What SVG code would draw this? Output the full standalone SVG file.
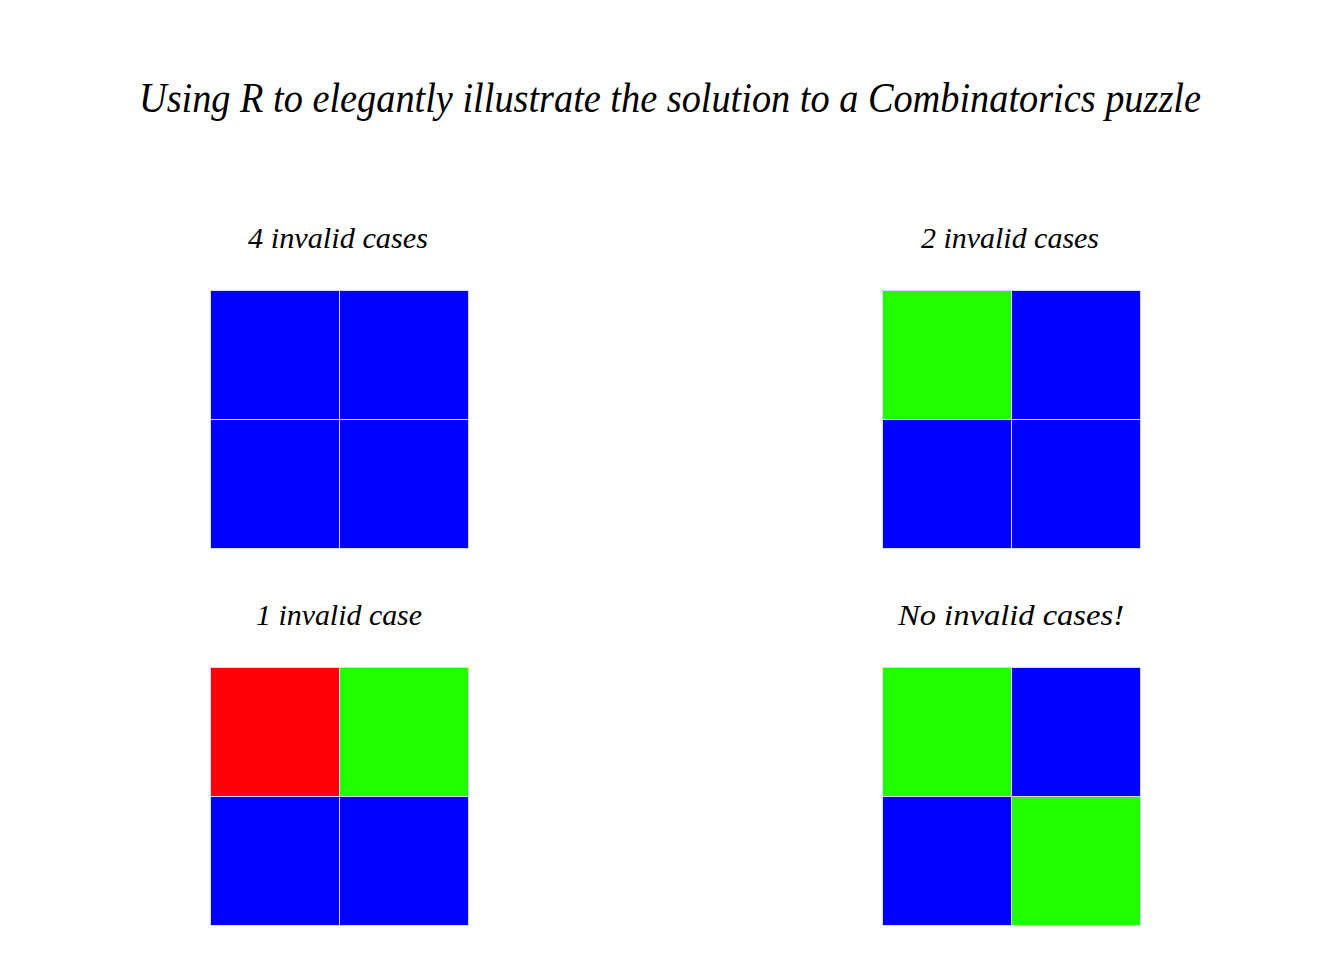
<svg xmlns="http://www.w3.org/2000/svg" width="1344" height="960" viewBox="0 0 1344 960">
<style>
.t{font-family:"Liberation Serif",serif;font-style:italic;fill:#000;text-anchor:middle}
.c{stroke:#d8d8ff;stroke-width:1}
.b{fill:#0000ff}.g{fill:#22ff00}.r{fill:#ff0008}
</style>
<rect width="1344" height="960" fill="#fff"/>
<text class="t" x="670" y="112" font-size="42" textLength="1062" lengthAdjust="spacingAndGlyphs">Using R to elegantly illustrate the solution to a Combinatorics puzzle</text>
<g id="p1">
<text class="t" x="338" y="248" font-size="30" textLength="180" lengthAdjust="spacingAndGlyphs">4 invalid cases</text>
<rect class="b c" x="210.5" y="290.5" width="129" height="129"/>
<rect class="b c" x="339.5" y="290.5" width="129" height="129"/>
<rect class="b c" x="210.5" y="419.5" width="129" height="129"/>
<rect class="b c" x="339.5" y="419.5" width="129" height="129"/>
</g>
<g id="p2">
<text class="t" x="1010" y="248" font-size="30" textLength="178" lengthAdjust="spacingAndGlyphs">2 invalid cases</text>
<rect class="g c" x="882.5" y="290.5" width="129" height="129"/>
<rect class="b c" x="1011.5" y="290.5" width="129" height="129"/>
<rect class="b c" x="882.5" y="419.5" width="129" height="129"/>
<rect class="b c" x="1011.5" y="419.5" width="129" height="129"/>
</g>
<g id="p3">
<text class="t" x="339" y="625" font-size="30" textLength="166" lengthAdjust="spacingAndGlyphs">1 invalid case</text>
<rect class="r c" x="210.5" y="667.5" width="129" height="129"/>
<rect class="g c" x="339.5" y="667.5" width="129" height="129"/>
<rect class="b c" x="210.5" y="796.5" width="129" height="129"/>
<rect class="b c" x="339.5" y="796.5" width="129" height="129"/>
</g>
<g id="p4">
<text class="t" x="1011" y="625" font-size="30" textLength="226" lengthAdjust="spacingAndGlyphs">No invalid cases!</text>
<rect class="g c" x="882.5" y="667.5" width="129" height="129"/>
<rect class="b c" x="1011.5" y="667.5" width="129" height="129"/>
<rect class="b c" x="882.5" y="796.5" width="129" height="129"/>
<rect class="g c" x="1011.5" y="796.5" width="129" height="129"/>
</g>
<g id="connectors"/>
</svg>
